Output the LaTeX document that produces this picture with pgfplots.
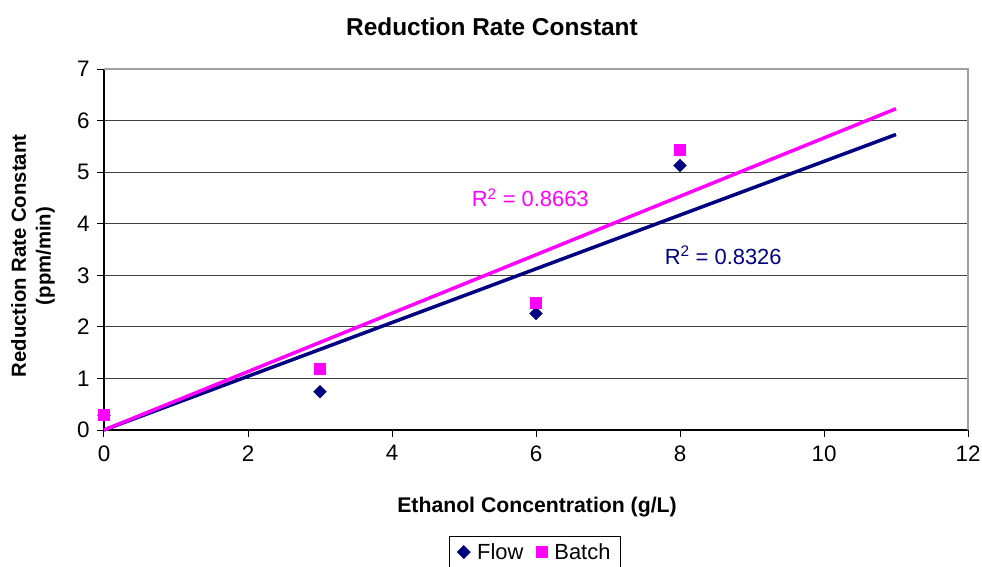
\documentclass[border=0pt]{standalone}
\usepackage{pgfplots}
\pgfplotsset{compat=1.18}
\usepackage{fontspec}
\setmainfont{Liberation Sans}
\definecolor{flowc}{HTML}{000080}
\definecolor{batchc}{HTML}{FF00FF}
\definecolor{gridc}{HTML}{404040}
\definecolor{framec}{HTML}{A0A0A0}

\begin{document}
\begin{tikzpicture}
\begin{axis}[
  at={(0,0)}, anchor=south west,
  scale only axis,
  width=864bp, height=361bp,
  xmin=0, xmax=12, ymin=0, ymax=7,
  xtick={0,2,...,12}, ytick={0,1,...,7},
  axis x line*=bottom, axis y line*=left,
  axis line style={black, line width=1.2bp, -},
  tick align=outside,
  major tick length=7bp,
  tick style={black, line width=1bp},
  ymajorgrids,
  grid style={gridc, line width=1bp},
  /pgf/number format/assume math mode=true,
  ticklabel style={font=\fontsize{22.5}{26}\selectfont},
  xticklabel style={yshift=-5bp},
  yticklabel style={xshift=-4bp},
  legend style={
    at={(rel axis cs:0.4988,-0.338)}, anchor=center,
    draw=black, line width=0.8bp,
    font=\fontsize{22}{26}\selectfont,
    legend columns=2,
    inner xsep=8bp, inner ysep=5bp,
    /tikz/every odd column/.append style={column sep=5bp},
    /tikz/every even column/.append style={column sep=11bp},
  },
  legend cell align=left,
  clip=false,
]
% frame on the top and right sides
\draw[framec, line width=1.2bp] (rel axis cs:0,1) -- (rel axis cs:1,1) -- (rel axis cs:1,0);

% measured rate constants
\addplot[only marks, mark=square*, mark size=4.5bp, color=flowc, mark options={fill=flowc, rotate=45}]
  coordinates {(0,0.28) (3,0.74) (6,2.26) (8,5.13)};
\addlegendentry{Flow}
\addplot[only marks, mark=square*, mark size=5.5bp, color=batchc, mark options={fill=batchc}]
  coordinates {(0,0.29) (3,1.18) (6,2.47) (8,5.43)};
\addlegendentry{Batch}

% linear fits through the origin
\addplot[forget plot, flowc, line width=3.5bp] coordinates {(0,0) (11,5.73)};
\addplot[forget plot, batchc, line width=3.5bp] coordinates {(0,0) (11,6.23)};

\node[batchc, font=\fontsize{22}{26}\selectfont] at (axis cs:5.92,4.5) {R\textsuperscript{2} = 0.8663};
\node[flowc, font=\fontsize{22}{26}\selectfont] at (axis cs:8.6,3.39) {R\textsuperscript{2} = 0.8326};
\end{axis}

\node[font=\bfseries\fontsize{24.5}{28}\selectfont] at (388bp,403bp) {Reduction Rate Constant};
\node[font=\bfseries\fontsize{21.3}{26}\selectfont] at (433bp,-77bp) {Ethanol Concentration (g/L)};
\node[font=\bfseries\fontsize{20.4}{25}\selectfont, rotate=90, align=center] at (-71bp,174bp)
  {Reduction Rate Constant\\(ppm/min)};

\pgfresetboundingbox
\useasboundingbox (-104bp,-137bp) rectangle (878bp,430bp);
\end{tikzpicture}
\end{document}
